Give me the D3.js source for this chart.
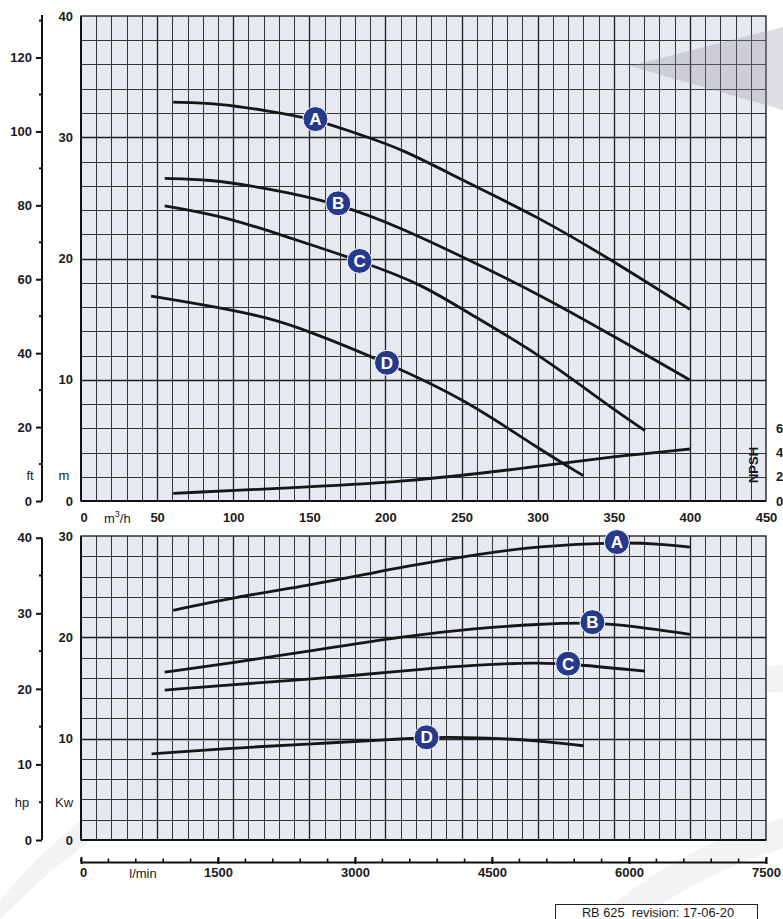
<!DOCTYPE html>
<html>
<head>
<meta charset="utf-8">
<script src="https://cdn.jsdelivr.net/npm/d3@7"></script>
<style>
  html, body { margin: 0; padding: 0; background: #fff; }
  svg { display: block; }
  text { font-family: "Liberation Sans", Arial, Helvetica, sans-serif; fill: #1a1a1a; }
</style>
</head>
<body>
<svg id="chart" width="783" height="919"></svg>
<script>
// ---------------- DATA ----------------
// Head curves (Q in m3/h, H in m)
const headA_Q = [60.6, 90, 122, 154, 181, 210, 253, 300, 347, 400];
const headA_H = [32.9, 32.8, 32.2, 31.5, 30.3, 29.1, 26.3, 23.45, 20.0, 15.8];
const headB_Q = [55, 83, 122, 169, 210, 253, 300, 347, 400];
const headB_H = [26.6, 26.55, 25.8, 24.55, 22.55, 20.0, 17.1, 13.8, 9.98];
const headC_Q = [55, 89, 122, 160, 183, 223, 253, 300, 347, 370.5];
const headC_H = [24.35, 23.6, 22.35, 20.76, 19.8, 17.95, 15.6, 12.2, 7.8, 5.8];
const headD_Q = [46, 89, 122, 148, 201, 253, 300, 330];
const headD_H = [16.9, 16.0, 15.15, 14.1, 11.4, 8.33, 4.35, 2.09];
// NPSH curve (m)
const npsh_Q = [60.6, 131, 210, 300, 347.5, 400];
const npsh_H = [0.63, 1.05, 1.51, 2.83, 3.65, 4.29];
// Power curves (Q in m3/h, P in kW)
const powA_Q = [60.6, 100, 150, 190, 210, 260, 300, 352, 383, 400];
const powA_P = [22.67, 23.93, 25.15, 26.3, 26.9, 28.2, 29.0, 29.4, 29.2, 28.9];
const powB_Q = [55, 100, 150, 210, 260, 300, 336, 363, 400];
const powB_P = [16.57, 17.5, 18.65, 20.07, 20.9, 21.3, 21.5, 21.1, 20.3];
const powC_Q = [55, 100, 150, 210, 260, 300, 320, 370.5];
const powC_P = [14.8, 15.35, 15.84, 16.67, 17.3, 17.5, 17.4, 16.67];
const powD_Q = [46.4, 100, 150, 210, 227, 260, 300, 330];
const powD_P = [8.5, 9.08, 9.47, 9.97, 10.13, 10.13, 9.83, 9.3];
// Curve labels and where their badges sit (flow, m3/h)
const curveNames = ["A", "B", "C", "D"];
const headBadgeQ = [154, 169, 183, 201];
const powBadgeQ = [352, 336, 320, 227];
// Tick labels
const flowTicks = [0, 50, 100, 150, 200, 250, 300, 350, 400, 450];
const headTicks = [0, 10, 20, 30, 40];
const ftTicks = [0, 20, 40, 60, 80, 100, 120];
const ftMinor = [10, 30, 50, 70, 90, 110, 130];
const npshTicks = [0, 2, 4, 6];
const kwTicks = [0, 10, 20, 30];
const hpTicks = [0, 10, 20, 30, 40];
const hpMinor = [5, 15, 25, 35];
const lminTicks = [0, 1500, 3000, 4500, 6000, 7500];
const lminMinor = d3.range(0, 7501, 300);
const footerText = "RB 625\u00a0\u00a0revision: 17-06-20";

// ---------------- SCALES ----------------
const svg = d3.select("#chart");
const X0 = 81, X1 = 766;
const x = d3.scaleLinear().domain([0, 450]).range([X0, X1]);
const xL = d3.scaleLinear().domain([0, 7500]).range([X0, X1]);
const yH = d3.scaleLinear().domain([0, 40]).range([501, 16]);
const yFt = d3.scaleLinear().domain([0, 40 / 0.3048]).range([501, 16]);
const yP = d3.scaleLinear().domain([0, 30]).range([840, 536]);
const yHp = d3.scaleLinear().domain([0, 30 / 0.7457]).range([840, 536]);

// ---------------- WATERMARK ----------------
const wm = svg.append("g");
wm.append("path").attr("d", "M0,900 Q150,720 420,688 L783,665 L783,692 L420,710 Q170,745 0,919 Z")
  .attr("fill", "#8a8c99").attr("opacity", 0.10);
wm.append("path").attr("d", "M595,919 Q680,845 783,818 L783,848 Q705,872 640,919 Z")
  .attr("fill", "#8a8c99").attr("opacity", 0.10);

// ---------------- PANELS ----------------
function panel(yScale, yStep, yMax) {
  const g = svg.append("g");
  const [yb, yt] = yScale.range();
  g.append("rect").attr("x", X0).attr("y", yt).attr("width", X1 - X0).attr("height", yb - yt)
    .attr("fill", "#e4e7f0").attr("opacity", 0.9);
  const vs = d3.range(10, 450, 10);
  g.selectAll(".v").data(vs).join("line")
    .attr("x1", d => Math.round(x(d)) + 0.5).attr("x2", d => Math.round(x(d)) + 0.5)
    .attr("y1", yt).attr("y2", yb)
    .attr("stroke", d => d % 50 === 0 ? "#1e1e1e" : "#353535")
    .attr("stroke-width", d => d % 50 === 0 ? 1.3 : 1);
  const hs = d3.range(yStep, yMax, yStep);
  g.selectAll(".h").data(hs).join("line")
    .attr("x1", X0).attr("x2", X1)
    .attr("y1", d => Math.round(yScale(d)) + 0.5).attr("y2", d => Math.round(yScale(d)) + 0.5)
    .attr("stroke", d => d % 10 === 0 ? "#1e1e1e" : "#353535")
    .attr("stroke-width", d => d % 10 === 0 ? 1.6 : 1);
  g.append("rect").attr("x", X0).attr("y", yt).attr("width", X1 - X0).attr("height", yb - yt)
    .attr("fill", "none").attr("stroke", "#222").attr("stroke-width", 1.4);
  g.append("line").attr("x1", X0).attr("x2", X1).attr("y1", yb).attr("y2", yb)
    .attr("stroke", "#111").attr("stroke-width", 2.2);
  g.append("line").attr("x1", X0).attr("x2", X0).attr("y1", yt).attr("y2", yb)
    .attr("stroke", "#111").attr("stroke-width", 2);
}
panel(yH, 2, 40);
panel(yP, 2, 30);
// top-right watermark chevron (over the grid)
svg.append("path").attr("d", "M630,66 L783,27 L783,110 Z").attr("fill", "#8e909e").attr("opacity", 0.30);

// ---------------- CURVES ----------------
function drawCurve(qs, vs, yScale) {
  const pts = qs.map((q, i) => [q, vs[i]]);
  svg.append("path").datum(pts)
    .attr("d", d3.line().x(d => x(d[0])).y(d => yScale(d[1])).curve(d3.curveBasis))
    .attr("fill", "none").attr("stroke", "#161616").attr("stroke-width", 2.8)
    .attr("stroke-linecap", "butt");
}
const headSets = [[headA_Q, headA_H], [headB_Q, headB_H], [headC_Q, headC_H], [headD_Q, headD_H]];
const powSets = [[powA_Q, powA_P], [powB_Q, powB_P], [powC_Q, powC_P], [powD_Q, powD_P]];
headSets.forEach(s => drawCurve(s[0], s[1], yH));
drawCurve(npsh_Q, npsh_H, yH);
powSets.forEach(s => drawCurve(s[0], s[1], yP));

function badge(q, set, yScale, name) {
  const interp = d3.scaleLinear().domain(set[0]).range(set[1]);
  const cx = x(q), cy = yScale(interp(q));
  const g = svg.append("g").attr("transform", `translate(${cx},${cy})`);
  g.append("circle").attr("r", 12.5).attr("fill", "#263a8c").attr("stroke", "#fff").attr("stroke-width", 1);
  g.append("text").attr("text-anchor", "middle").attr("dy", "0.36em")
    .style("font-size", "17px").style("font-weight", "bold").style("fill", "#fff").text(name);
}
curveNames.forEach((n, i) => badge(headBadgeQ[i], headSets[i], yH, n));
curveNames.forEach((n, i) => badge(powBadgeQ[i], powSets[i], yP, n));

// ---------------- AXES ----------------
function styleAxis(g, size) {
  g.selectAll("text").style("font-size", size || "13px").style("font-weight", "bold")
    .style("font-family", "'Liberation Sans', Arial, sans-serif").attr("fill", "#1a1a1a");
}
// ft axis
const ftG = svg.append("g").attr("transform", "translate(42,0)")
  .call(d3.axisLeft(yFt).tickValues(ftTicks).tickSize(6).tickSizeOuter(0).tickPadding(4));
ftG.select(".domain").attr("stroke", "#111").attr("stroke-width", 2)
  .attr("d", `M0,${yFt(0)}V15`);
ftG.selectAll(".tick line").attr("stroke", "#111").attr("stroke-width", 2);
styleAxis(ftG);
svg.append("g").selectAll("line").data(ftMinor).join("line")
  .attr("x1", 39).attr("x2", 42).attr("y1", d => yFt(d)).attr("y2", d => yFt(d))
  .attr("stroke", "#111").attr("stroke-width", 2);
// m axis
const mG = svg.append("g").attr("transform", `translate(${X0},0)`)
  .call(d3.axisLeft(yH).tickValues(headTicks).tickSize(0).tickPadding(8));
mG.select(".domain").remove();
styleAxis(mG);
// NPSH axis
const nG = svg.append("g").attr("transform", `translate(${X1},0)`)
  .call(d3.axisRight(yH).tickValues(npshTicks).tickSize(0).tickPadding(10));
nG.select(".domain").remove();
styleAxis(nG);
svg.append("text").attr("transform", "translate(758,465) rotate(-90)").attr("text-anchor", "middle")
  .style("font-size", "13px").style("font-weight", "bold").text("NPSH");
// flow axis (top panel)
const qG = svg.append("g").attr("transform", "translate(0,501)")
  .call(d3.axisBottom(x).tickValues(flowTicks).tickSize(0).tickPadding(12).tickFormat(d3.format("d")));
qG.select(".domain").remove();
qG.selectAll(".tick").filter(d => d === 0).attr("transform", `translate(${x(0) + 3},0)`);
styleAxis(qG);
const unitQ = svg.append("text").attr("x", 104).attr("y", 523).style("font-size", "13px");
unitQ.append("tspan").text("m");
unitQ.append("tspan").attr("dy", -6).style("font-size", "9px").text("3");
unitQ.append("tspan").attr("dy", 6).text("/h");
svg.append("text").attr("x", 30).attr("y", 480).attr("text-anchor", "middle")
  .style("font-size", "13px").text("ft");
svg.append("text").attr("x", 64).attr("y", 480).attr("text-anchor", "middle")
  .style("font-size", "13px").text("m");

// hp axis
const hpG = svg.append("g").attr("transform", "translate(42,0)")
  .call(d3.axisLeft(yHp).tickValues(hpTicks).tickSize(6).tickSizeOuter(0).tickPadding(4));
hpG.select(".domain").attr("stroke", "#111").attr("stroke-width", 2)
  .attr("d", `M0,${yHp(0)}V${yHp(40)}`);
hpG.selectAll(".tick line").attr("stroke", "#111").attr("stroke-width", 2);
styleAxis(hpG);
svg.append("g").selectAll("line").data(hpMinor).join("line")
  .attr("x1", 39).attr("x2", 42).attr("y1", d => yHp(d)).attr("y2", d => yHp(d))
  .attr("stroke", "#111").attr("stroke-width", 2);
// kW axis
const kG = svg.append("g").attr("transform", `translate(${X0},0)`)
  .call(d3.axisLeft(yP).tickValues(kwTicks).tickSize(0).tickPadding(8));
kG.select(".domain").remove();
styleAxis(kG);
svg.append("text").attr("x", 22).attr("y", 807).attr("text-anchor", "middle")
  .style("font-size", "13px").text("hp");
svg.append("text").attr("x", 64).attr("y", 807).attr("text-anchor", "middle")
  .style("font-size", "13px").text("Kw");

// l/min axis
const lG = svg.append("g").attr("transform", "translate(0,862)")
  .call(d3.axisBottom(xL).tickValues(lminTicks).tickSize(-5).tickSizeOuter(0).tickPadding(6)
    .tickFormat(d3.format("d")));
lG.select(".domain").attr("stroke", "#111").attr("stroke-width", 2);
lG.selectAll(".tick line").attr("stroke", "#111").attr("stroke-width", 2).attr("y2", -5).attr("y1", 2);
lG.selectAll(".tick").filter(d => d === 0).select("text").attr("x", 2);
styleAxis(lG);
svg.append("g").selectAll("line").data(lminMinor).join("line")
  .attr("x1", d => xL(d)).attr("x2", d => xL(d)).attr("y1", 862).attr("y2", 858.5)
  .attr("stroke", "#111").attr("stroke-width", 1.6);
svg.append("text").attr("x", 143).attr("y", 878).attr("text-anchor", "middle")
  .style("font-size", "13px").text("l/min");

// footer box
svg.append("rect").attr("x", 555.5).attr("y", 904.5).attr("width", 202).attr("height", 22)
  .attr("fill", "#fff").attr("stroke", "#222").attr("stroke-width", 1);
svg.append("text").attr("x", 658).attr("y", 917).attr("text-anchor", "middle")
  .style("font-size", "12.8px").text(footerText);
</script>
</body>
</html>
